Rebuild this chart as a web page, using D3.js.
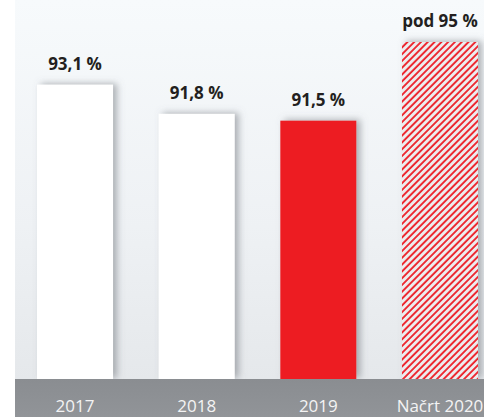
<!DOCTYPE html>
<html lang="sl">
<head>
  <meta charset="UTF-8" />
  <title>Delež</title>
  <script src="https://d3js.org/d3.v7.min.js"></script>
  <style>
    html, body {
      margin: 0;
      padding: 0;
      background: #fff;
    }
    svg {
      display: block;
    }
    .value-label {
      font-family: 'Open Sans', sans-serif;
      font-weight: 700;
      font-size: 17px;
      fill: #231f20;
    }
    .axis-label {
      font-family: 'Open Sans', sans-serif;
      font-size: 17px;
      fill: #f4f4f4;
    }
  </style>
</head>
<body>
<svg width="484" height="417"></svg>

<script>
const categories = ["2017", "2018", "2019", "Načrt 2020"];
const values = [93.1, 91.8, 91.5, 95];
const valueLabels = ["93,1 %", "91,8 %", "91,5 %", "pod 95 %"];
const kinds = ["white", "white", "red", "hatch"];

const width = 484, height = 417;
const panelLeft = 15;
const baseY = 379;

const svg = d3.select("svg");
const defs = svg.append("defs");

// panel background gradient
const bg = defs.append("linearGradient")
  .attr("id", "bg").attr("x1", 0).attr("y1", 0).attr("x2", 0).attr("y2", 1);
bg.append("stop").attr("offset", "0%").attr("stop-color", "#f7fafc");
bg.append("stop").attr("offset", "60%").attr("stop-color", "#eef1f4");
bg.append("stop").attr("offset", "100%").attr("stop-color", "#e5e8eb");

const band = defs.append("linearGradient")
  .attr("id", "band").attr("x1", 0).attr("y1", 0).attr("x2", 0).attr("y2", 1);
band.append("stop").attr("offset", "0%").attr("stop-color", "#8a8d91");
band.append("stop").attr("offset", "100%").attr("stop-color", "#919498");

// soft shadow to the right of each bar
const shadow = defs.append("filter")
  .attr("id", "shadow")
  .attr("x", "-20%").attr("y", "-10%").attr("width", "150%").attr("height", "120%");
shadow.append("feDropShadow")
  .attr("dx", 4).attr("dy", -1)
  .attr("stdDeviation", 3.5)
  .attr("flood-color", "#6f757c")
  .attr("flood-opacity", 0.55);

// red hatch for the plan bar
const hatch = defs.append("pattern")
  .attr("id", "hatch")
  .attr("patternUnits", "userSpaceOnUse")
  .attr("width", 4.8).attr("height", 4.8)
  .attr("patternTransform", "rotate(45)");
hatch.append("rect")
  .attr("width", 4.8).attr("height", 4.8)
  .attr("fill", "#ecedef");
hatch.append("line")
  .attr("x1", 1).attr("y1", 0).attr("x2", 1).attr("y2", 4.8)
  .attr("stroke", "#ed1c24")
  .attr("stroke-width", 1.8);

svg.append("rect")
  .attr("x", panelLeft).attr("y", 0)
  .attr("width", width - panelLeft).attr("height", baseY)
  .attr("fill", "url(#bg)");

const x = d3.scaleBand()
  .domain(categories)
  .range([37, 478])
  .paddingInner(0.375)
  .paddingOuter(0);

const y = d3.scaleLinear()
  .domain([80, 95])
  .range([baseY, 42]);

const fills = { white: "#ffffff", red: "#ed1c24", hatch: "url(#hatch)" };

const data = categories.map((c, i) => ({
  cat: c, value: values[i], label: valueLabels[i], kind: kinds[i]
}));

svg.selectAll("rect.bar")
  .data(data)
  .enter()
  .append("rect")
  .attr("class", "bar")
  .attr("x", d => x(d.cat))
  .attr("y", d => y(d.value))
  .attr("width", x.bandwidth())
  .attr("height", d => baseY - y(d.value))
  .attr("fill", d => fills[d.kind])
  .attr("filter", "url(#shadow)");

svg.selectAll("text.value-label")
  .data(data)
  .enter()
  .append("text")
  .attr("class", "value-label")
  .attr("x", d => x(d.cat) + x.bandwidth() / 2)
  .attr("y", d => y(d.value) - 15)
  .attr("text-anchor", "middle")
  .text(d => d.label);

// bottom grey band with category labels
svg.append("rect")
  .attr("x", panelLeft).attr("y", baseY)
  .attr("width", width - panelLeft).attr("height", height - baseY)
  .attr("fill", "url(#band)");

svg.selectAll("text.axis-label")
  .data(data)
  .enter()
  .append("text")
  .attr("class", "axis-label")
  .attr("x", d => x(d.cat) + x.bandwidth() / 2)
  .attr("y", 412)
  .attr("text-anchor", "middle")
  .text(d => d.cat);
</script>
</body>
</html>
